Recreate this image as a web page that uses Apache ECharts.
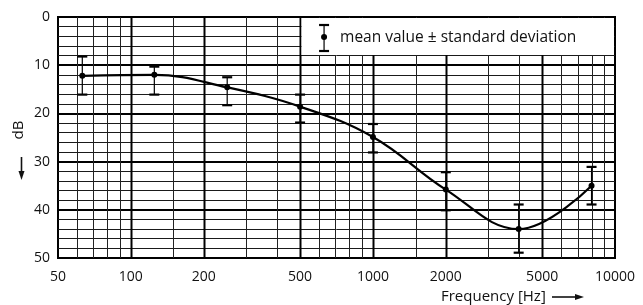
<!DOCTYPE html>
<html>
<head>
<meta charset="UTF-8">
<title>dB vs frequency</title>
<script src="https://cdn.jsdelivr.net/npm/echarts@6/dist/echarts.min.js"></script>
<style>
  html, body { margin: 0; padding: 0; background: #fff; }
  #main { width: 643px; height: 305px; }
</style>
</head>
<body>
<div id="main"></div>
<script>
// measured points (Hz, dB)
const freqs = [63, 125, 250, 500, 1000, 2000, 4000, 8000];
const meanDb = [12.2, 12.0, 14.6, 18.6, 24.9, 35.8, 44.0, 35.0];
const upperDb = [8.2, 10.3, 12.5, 16.1, 22.2, 32.2, 38.9, 31.1];
const lowerDb = [16.1, 16.1, 18.3, 21.9, 28.1, 40.1, 48.9, 38.9];

// grid and tick labels
const xTickLabels = [50, 100, 200, 500, 1000, 2000, 5000, 10000];
const majorGridFreqs = [100, 200, 500, 1000, 2000, 5000];
const minorGridFreqs = [60, 70, 80, 90, 150, 300, 400, 600, 700, 800, 900,
                        1500, 3000, 4000, 6000, 7000, 8000, 9000];

const FONT = '"Open Sans", "Noto Sans", sans-serif';
const chart = echarts.init(document.getElementById('main'));

function vLine(color, width) {
  return function (params, api) {
    const f = api.value(0);
    const a = api.coord([f, 0]);
    const b = api.coord([f, 50]);
    const x = Math.round(a[0]) + 0.5;
    return {
      type: 'line',
      shape: { x1: x, y1: a[1], x2: x, y2: b[1] },
      style: { stroke: color, lineWidth: width }
    };
  };
}

chart.setOption({
  animation: false,
  grid: { left: 58, right: 28, top: 17, bottom: 47, show: true,
          borderColor: '#000', borderWidth: 2, backgroundColor: 'transparent' },
  xAxis: {
    type: 'log', logBase: 10, min: 50, max: 10000,
    axisLine: { show: false }, axisTick: { show: false },
    axisLabel: { show: false }, splitLine: { show: false }
  },
  yAxis: {
    type: 'value', inverse: true, min: 0, max: 50, interval: 10,
    axisLine: { show: false }, axisTick: { show: false },
    axisLabel: { color: '#111', fontSize: 14, fontFamily: FONT, margin: 8 },
    splitLine: { lineStyle: { color: '#000', width: 2 } },
    minorTick: { show: false, splitNumber: 5 },
    minorSplitLine: { show: true, lineStyle: { color: '#1a1a1a', width: 1 } }
  },
  series: [
    {
      type: 'custom', z: 1, silent: true, clip: false,
      data: minorGridFreqs.map(f => [f]),
      renderItem: vLine('#222', 1)
    },
    {
      type: 'custom', z: 1, silent: true, clip: false,
      data: majorGridFreqs.map(f => [f]),
      renderItem: vLine('#000', 2)
    },
    {
      // x tick labels
      type: 'custom', z: 1, silent: true, clip: false,
      data: xTickLabels.map(f => [f]),
      renderItem: function (params, api) {
        const f = api.value(0);
        const p = api.coord([f, 50]);
        return {
          type: 'text',
          style: { text: String(f), x: p[0], y: p[1] + 19, align: 'center',
                   verticalAlign: 'middle', fill: '#111', font: '14px ' + FONT }
        };
      }
    },
    {
      // error bars
      type: 'custom', z: 4, silent: true, clip: false,
      data: freqs.map((f, i) => [f, upperDb[i], lowerDb[i]]),
      renderItem: function (params, api) {
        const f = api.value(0);
        const a = api.coord([f, api.value(1)]);
        const b = api.coord([f, api.value(2)]);
        const w = 5;
        return {
          type: 'group',
          children: [
            { type: 'line', shape: { x1: a[0], y1: a[1], x2: b[0], y2: b[1] },
              style: { stroke: '#000', lineWidth: 1.2 } },
            { type: 'line', shape: { x1: a[0] - w, y1: a[1], x2: a[0] + w, y2: a[1] },
              style: { stroke: '#000', lineWidth: 2.2 } },
            { type: 'line', shape: { x1: b[0] - w, y1: b[1], x2: b[0] + w, y2: b[1] },
              style: { stroke: '#000', lineWidth: 2.2 } }
          ]
        };
      }
    },
    {
      type: 'line', z: 5, smooth: 0.4,
      data: freqs.map((f, i) => [f, meanDb[i]]),
      symbol: 'circle', symbolSize: 6,
      itemStyle: { color: '#000' },
      lineStyle: { color: '#000', width: 2.2 }
    }
  ]
});

// legend box anchored to the plot corner
const tl = chart.convertToPixel({ gridIndex: 0 }, [500, 0]);
const br = chart.convertToPixel({ gridIndex: 0 }, [10000, 8]);
const lx = tl[0] + 24, ly = tl[1];

chart.setOption({
  graphic: [
    { type: 'rect', z: 100,
      shape: { x: tl[0] + 1.5, y: tl[1] + 1, width: br[0] - tl[0] - 2.5, height: br[1] - tl[1] - 1.5 },
      style: { fill: '#fff' } },
    { type: 'line', z: 101, shape: { x1: lx, y1: ly + 8, x2: lx, y2: ly + 34 },
      style: { stroke: '#000', lineWidth: 1.2 } },
    { type: 'line', z: 101, shape: { x1: lx - 5, y1: ly + 8, x2: lx + 5, y2: ly + 8 },
      style: { stroke: '#000', lineWidth: 2.2 } },
    { type: 'line', z: 101, shape: { x1: lx - 5, y1: ly + 34, x2: lx + 5, y2: ly + 34 },
      style: { stroke: '#000', lineWidth: 2.2 } },
    { type: 'circle', z: 101, shape: { cx: lx, cy: ly + 20, r: 3 }, style: { fill: '#000' } },
    { type: 'text', z: 101,
      style: { text: 'mean value \u00b1 standard deviation', x: tl[0] + 40, y: ly + 21,
               verticalAlign: 'middle', fill: '#111', font: '15.5px ' + FONT } },
    // y axis title and arrow
    { type: 'text', z: 101, x: 19, y: 130, rotation: Math.PI / 2,
      style: { text: 'dB', x: 0, y: 0, align: 'center', verticalAlign: 'middle',
               fill: '#111', font: '15px ' + FONT } },
    { type: 'line', z: 101, shape: { x1: 21.5, y1: 157, x2: 21.5, y2: 173 },
      style: { stroke: '#111', lineWidth: 1.6 } },
    { type: 'polygon', z: 101, shape: { points: [[18.5, 171], [21.5, 180], [24.5, 171]] },
      style: { fill: '#111' } },
    // x axis title and arrow
    { type: 'text', z: 101,
      style: { text: 'Frequency [Hz]', x: 441, y: 297, verticalAlign: 'middle',
               fill: '#111', font: '15px ' + FONT } },
    { type: 'line', z: 101, shape: { x1: 552, y1: 297, x2: 576, y2: 297 },
      style: { stroke: '#111', lineWidth: 1.6 } },
    { type: 'polygon', z: 101, shape: { points: [[575, 294], [584, 297], [575, 300]] },
      style: { fill: '#111' } }
  ]
});
</script>
</body>
</html>
